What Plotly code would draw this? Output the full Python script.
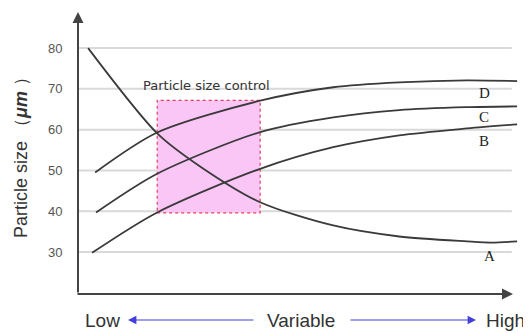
import plotly.graph_objects as go

# ---- data ----
x_A = [2.3, 18, 28, 41.4, 58, 73, 88.4, 94, 99.8]
y_A = [80, 59.1, 50.8, 42.2, 36.5, 33.8, 32.6, 32.3, 32.6]
x_B = [3.2, 18, 41.4, 58, 73, 88.4, 99.8]
y_B = [29.8, 39.7, 50.4, 55.7, 58.6, 60.3, 61.3]
x_C = [4.1, 18, 41.4, 58, 73, 88.4, 99.8]
y_C = [39.7, 49.2, 59.4, 63.0, 64.8, 65.5, 65.7]
x_D = [3.9, 18, 41.4, 58, 73, 88.4, 99.8]
y_D = [49.5, 59.3, 67.1, 70.4, 71.6, 72.1, 71.9]
curve_names = ["A", "B", "C", "D"]
label_pos = {"D": (92.3, 69.0), "C": (92.3, 63.0), "B": (92.3, 57.2), "A": (93.5, 28.9)}
y_ticks = [30, 40, 50, 60, 70, 80]
control_box = {"x0": 18, "x1": 41.4, "y0": 39.6, "y1": 67.2}
control_label = "Particle size control"

X_RANGE = [0, 100]
Y_RANGE = [19.7, 88.85]

# page body has an 8px default margin, compensate in layout margins
OFF = 8

fig = go.Figure()
for xs, ys in [(x_A, y_A), (x_B, y_B), (x_C, y_C), (x_D, y_D)]:
    fig.add_trace(go.Scatter(x=xs, y=ys, mode="lines",
                             line=dict(color="#3a3a3a", width=1.8, shape="spline", smoothing=0.8),
                             hoverinfo="skip", showlegend=False))

shapes = []
# gridlines
for t in y_ticks:
    shapes.append(dict(type="line", xref="x", yref="y", x0=0, x1=98.6, y0=t, y1=t,
                       line=dict(color="#d9d9d9", width=2), layer="below"))
# control box
shapes.append(dict(type="rect", xref="x", yref="y", x0=control_box["x0"], x1=control_box["x1"],
                   y0=control_box["y0"], y1=control_box["y1"],
                   fillcolor="#f9c6f6", line=dict(color="#e0405a", width=1.2, dash="dot"),
                   layer="below"))

annotations = []
# curve labels
for n in curve_names:
    lx, ly = label_pos[n]
    annotations.append(dict(x=lx, y=ly, xref="x", yref="y", text=n, showarrow=False,
                            font=dict(family="Liberation Serif", size=15, color="#222")))
annotations.append(dict(x=control_box["x0"] - 3.6, y=control_box["y1"] + 3.7, xref="x", yref="y",
                        text=control_label, showarrow=False, xanchor="left", yanchor="middle",
                        font=dict(family="DejaVu Sans", size=13, color="#333")))
# axis arrows
annotations.append(dict(x=0, y=1, xref="paper", yref="paper", ax=0, ay=282, text="",
                        showarrow=True, arrowhead=2, arrowsize=1.1, arrowwidth=2, arrowcolor="#444"))
annotations.append(dict(x=(513 - 78) / 440, y=0, xref="paper", yref="paper", ax=-437, ay=0, text="",
                        showarrow=True, arrowhead=2, arrowsize=1.1, arrowwidth=2, arrowcolor="#444"))
# bottom legend of variable
ybot = (294 - 320) / 282
for px, txt in [(102, "Low"), (301, "Variable"), (505, "High")]:
    annotations.append(dict(x=(px - 78) / 440, y=ybot, xref="paper", yref="paper", text=txt,
                            showarrow=False, yanchor="middle", xanchor="center",
                            font=dict(family="Liberation Sans", size=19, color="#333")))
annotations.append(dict(x=(128 - 78) / 440, y=ybot, xref="paper", yref="paper", ax=127, ay=0, text="",
                        showarrow=True, arrowhead=2, arrowsize=1.4, arrowwidth=1.2, arrowcolor="#4040d8"))
annotations.append(dict(x=(476 - 78) / 440, y=ybot, xref="paper", yref="paper", ax=-127, ay=0, text="",
                        showarrow=True, arrowhead=2, arrowsize=1.4, arrowwidth=1.2, arrowcolor="#4040d8"))

fig.update_layout(
    width=531, height=333,
    margin=dict(l=78 - OFF, r=13 + OFF, t=12 - OFF, b=39 + OFF),
    paper_bgcolor="white", plot_bgcolor="white",
    shapes=shapes, annotations=annotations,
    xaxis=dict(range=X_RANGE, showgrid=False, zeroline=False, showticklabels=False,
               showline=False, fixedrange=True, automargin=False),
    yaxis=dict(range=Y_RANGE, showgrid=False, zeroline=False, tickvals=y_ticks,
               ticks="outside", ticklen=12, tickcolor="rgba(0,0,0,0)", automargin=False,
               tickfont=dict(family="Liberation Sans Narrow, Liberation Sans", size=13, color="#555"),
               title=dict(text="Particle size （<b><i>μm</i></b> ）", standoff=15,
                          font=dict(family="Liberation Sans", size=18, color="#333")),
               showline=False, fixedrange=True),
)

fig.write_html("out.html")
